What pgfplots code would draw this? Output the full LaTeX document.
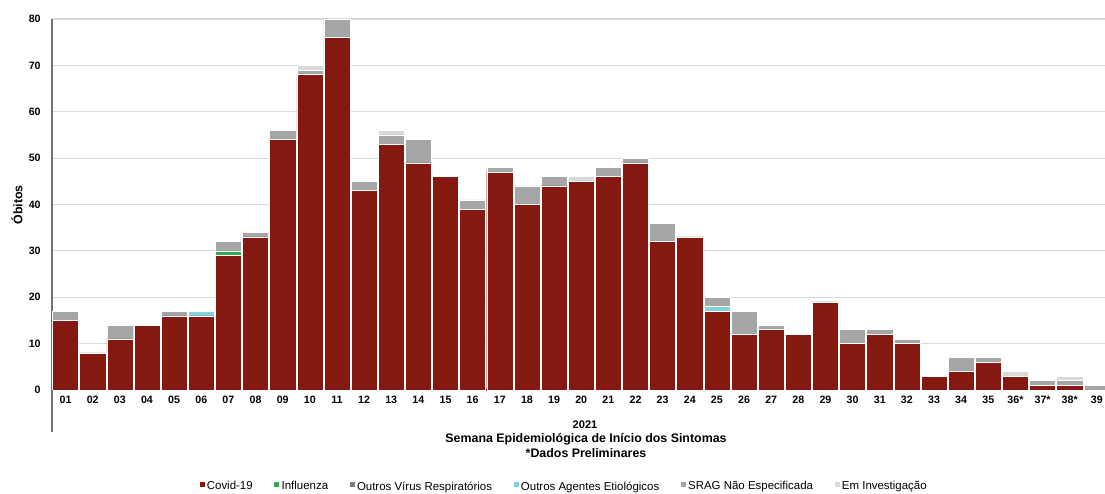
\documentclass[border=0pt]{standalone}
\usepackage{pgfplots}
\pgfplotsset{compat=1.18}
\usepackage{pgfplotstable}
\usepackage{fontspec}
\setmainfont{Liberation Sans}
\definecolor{covid}{HTML}{851810}
\definecolor{influ}{HTML}{35A853}
\definecolor{ovr}{HTML}{7F7F7F}
\definecolor{oae}{HTML}{80D3D8}
\definecolor{srag}{HTML}{A6A6A6}
\definecolor{emi}{HTML}{D9D9D9}
\pgfplotstableread{
w covid infl ovr oae srag emi
1 15 0 0 0 2 0
2 8 0 0 0 0 0
3 11 0 0 0 3 0
4 14 0 0 0 0 0
5 16 0 0 0 1 0
6 16 0 0 1 0 0
7 29 1 0 0 2 0
8 33 0 0 0 1 0
9 54 0 0 0 2 0
10 68 0 0 0 1 1
11 76 0 0 0 4 0
12 43 0 0 0 2 0
13 53 0 0 0 2 1
14 49 0 0 0 5 0
15 46 0 0 0 0 0
16 39 0 0 0 2 0
17 47 0 0 0 1 0
18 40 0 0 0 4 0
19 44 0 0 0 2 0
20 45 0 0 0 0 1
21 46 0 0 0 2 0
22 49 0 0 0 1 0
23 32 0 0 0 4 0
24 33 0 0 0 0 0
25 17 0 0 1 2 0
26 12 0 0 0 5 0
27 13 0 0 0 1 0
28 12 0 0 0 0 0
29 19 0 0 0 0 0
30 10 0 0 0 3 0
31 12 0 0 0 1 0
32 10 0 0 0 1 0
33 3 0 0 0 0 0
34 4 0 0 0 3 0
35 6 0 0 0 1 0
36 3 0 0 0 0 1
37 1 0 0 0 1 0
38 1 0 0 0 1 1
39 0 0 0 0 1 0
}\datatable
\begin{document}
\begin{tikzpicture}
\useasboundingbox (-39pt,-77.25pt) rectangle (789.75pt,292.5pt);
\begin{axis}[
  at={(0,0)}, anchor=south west,
  scale only axis,
  width=789.75pt, height=278.25pt,
  xmin=0.5, xmax=39.3,
  ymin=0, ymax=80,
  ybar stacked,
  bar width=19.6pt,
  axis x line*=bottom,
  axis y line*=left,
  x axis line style={draw=black!75, line width=1pt, -},
  y axis line style={draw=black!55, line width=1.2pt, -},
  ytick={0,10,...,80},
  xtick={1,...,39},
  xticklabels={01,02,03,04,05,06,07,08,09,10,11,12,13,14,15,16,17,18,19,20,21,22,23,24,25,26,27,28,29,30,31,32,33,34,35,36*,37*,38*,39},
  major tick length=0pt,
  ymajorgrids,
  grid style={draw=black!15, line width=0.9pt},
  /pgf/number format/assume math mode=true,
  tick label style={font=\bfseries\fontsize{8}{9}\selectfont, text=black},
  yticklabel style={xshift=-5pt},
  xticklabel style={yshift=-1pt},
  legend style={at={(0.4858,-0.261)}, anchor=center, draw=none, fill=none,
    legend columns=6, font=\fontsize{8.6}{10}\selectfont,
    nodes={inner xsep=1.4pt, inner ysep=1pt},
    /tikz/every even column/.append style={column sep=14pt},
    legend cell align=left, inner sep=0pt},
  legend image code/.code={\fill[#1] (0pt,0pt) rectangle (4.5pt,4.5pt);},
  every axis plot/.append style={draw=white, line width=0.35pt},
]
\addplot[fill=covid] table[x=w,y=covid]{\datatable};
\addplot[fill=influ] table[x=w,y=infl]{\datatable};
\addplot[fill=ovr] table[x=w,y=ovr]{\datatable};
\addplot[fill=oae] table[x=w,y=oae]{\datatable};
\addplot[fill=srag] table[x=w,y=srag]{\datatable};
\addplot[fill=emi] table[x=w,y=emi]{\datatable};
\legend{Covid-19,Influenza,Outros Vírus Respiratórios,Outros Agentes Etiológicos,SRAG Não Especificada,Em Investigação}
\end{axis}
\draw[black!55, line width=1.2pt] (0,0) -- (0,-31.5pt);
\node[font=\bfseries\fontsize{8.3}{9}\selectfont] at (399.75pt,-26.25pt) {2021};
\node[font=\bfseries\fontsize{9.3}{10}\selectfont] at (400.5pt,-36.75pt) {Semana Epidemiológica de Início dos Sintomas};
\node[font=\bfseries\fontsize{9.3}{10}\selectfont] at (400.5pt,-47.25pt) {*Dados Preliminares};
\node[font=\bfseries\fontsize{9.3}{10}\selectfont, rotate=90] at (-26.25pt,138.75pt) {Óbitos};
\end{tikzpicture}
\end{document}
